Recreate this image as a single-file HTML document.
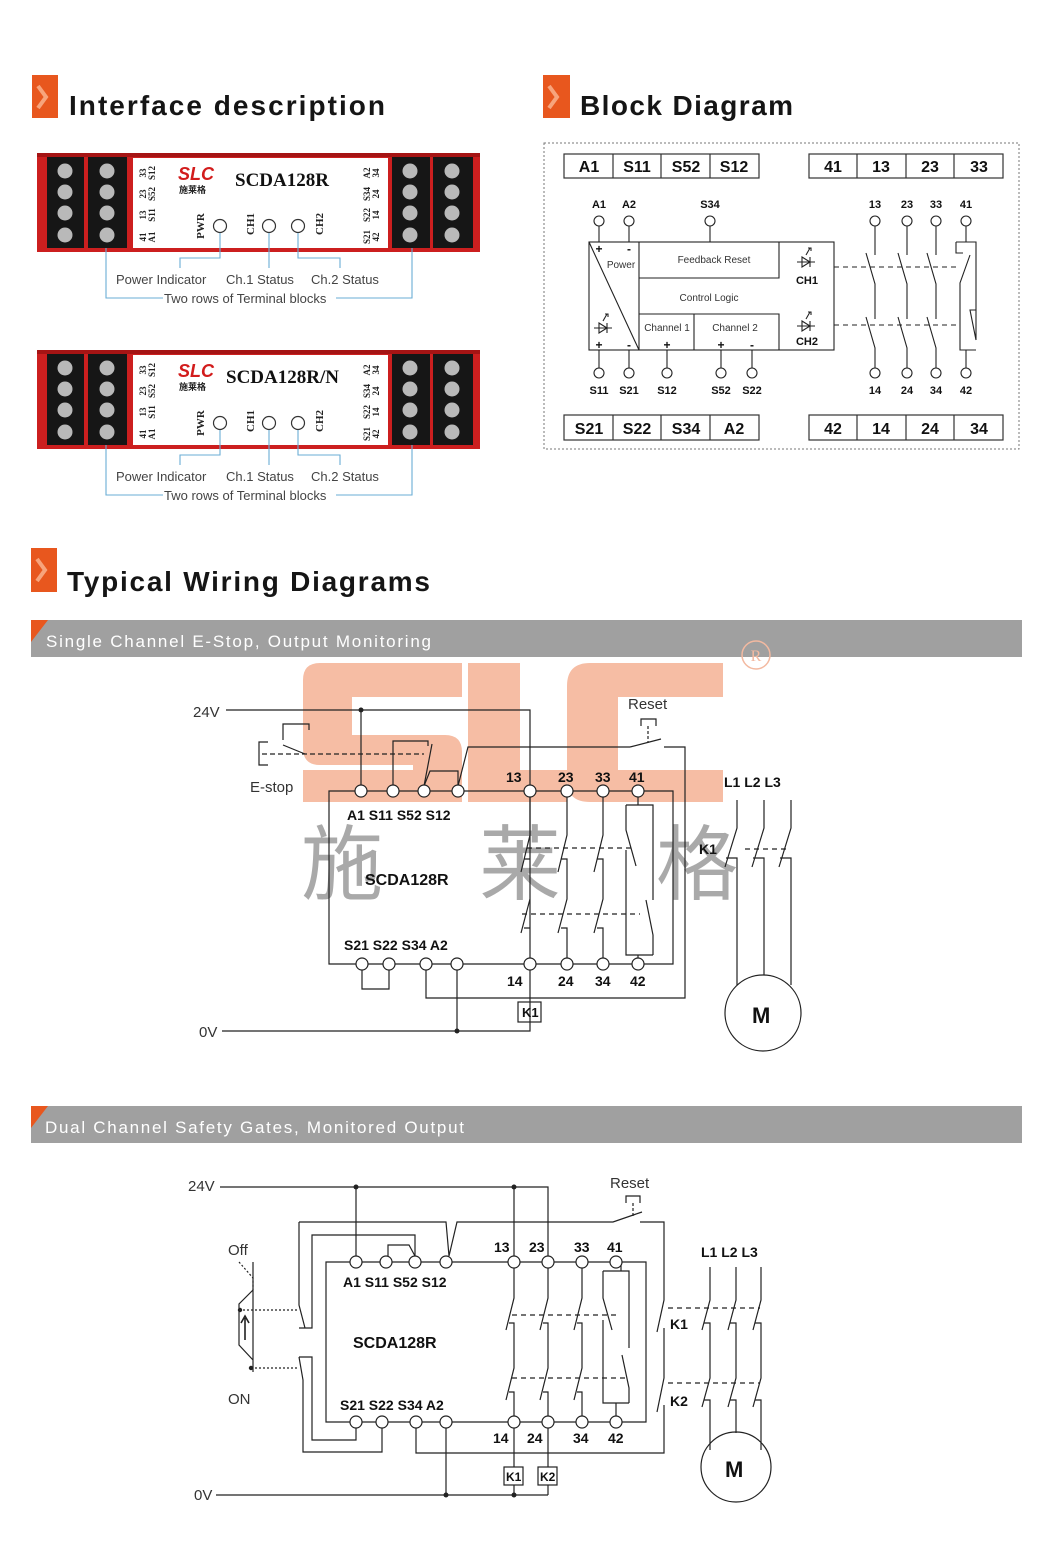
<!DOCTYPE html>
<html><head><meta charset="utf-8"><style>
html,body{margin:0;padding:0;background:#fff;}
svg{display:block;font-family:"Liberation Sans","Noto Sans CJK SC",sans-serif;}
</style></head><body>
<svg width="1060" height="1546" viewBox="0 0 1060 1546" xmlns="http://www.w3.org/2000/svg">
<defs>
<g id="dev">
  <rect x="37" y="153" width="443" height="99" fill="#cc1f1f"/>
  <rect x="37" y="153" width="443" height="4" fill="#a51414"/>
  <rect x="47" y="157" width="37" height="91" fill="#161616"/>
  <rect x="88" y="157" width="39" height="91" fill="#161616"/>
  <rect x="392" y="157" width="38" height="91" fill="#161616"/>
  <rect x="433" y="157" width="40" height="91" fill="#161616"/>
  <g fill="#b9b9b9">
    <circle cx="65" cy="171" r="7.5"/><circle cx="65" cy="192" r="7.5"/><circle cx="65" cy="213" r="7.5"/><circle cx="65" cy="235" r="7.5"/>
    <circle cx="107" cy="171" r="7.5"/><circle cx="107" cy="192" r="7.5"/><circle cx="107" cy="213" r="7.5"/><circle cx="107" cy="235" r="7.5"/>
    <circle cx="410" cy="171" r="7.5"/><circle cx="410" cy="192" r="7.5"/><circle cx="410" cy="213" r="7.5"/><circle cx="410" cy="235" r="7.5"/>
    <circle cx="452" cy="171" r="7.5"/><circle cx="452" cy="192" r="7.5"/><circle cx="452" cy="213" r="7.5"/><circle cx="452" cy="235" r="7.5"/>
  </g>
  <rect x="133" y="158" width="255" height="90" fill="#fff"/>
  <circle cx="220" cy="226" r="6.5" fill="#fff" stroke="#333" stroke-width="1.2"/>
  <circle cx="269" cy="226" r="6.5" fill="#fff" stroke="#333" stroke-width="1.2"/>
  <circle cx="298" cy="226" r="6.5" fill="#fff" stroke="#333" stroke-width="1.2"/>
</g>
<path id="c1" d="M0,0 V44 L-9,81 M-6,68 H0 V108 L-9,142 M-6,137 H0 V173" fill="none"/>
<path id="c2" d="M0,0 V36 L-8,68 M-5,61 H0 V106 L-8,138 M-5,130 H0 V160" fill="none"/>
<path id="cb" d="M0,0 V34 M-9,32 L0,63 V98 M-9,96 L0,127 V152" fill="none"/>
<g id="led" fill="none" stroke="#222" stroke-width="1.1">
  <path d="M-9,0 H9 M-4,-5 L4,0 L-4,5 Z M4,-5 V5 M0,-7 L4,-14 M2,-14 H5 V-11"/>
</g>
</defs>

<!-- headers -->
<rect x="32" y="75" width="26" height="43" fill="#e8571e"/>
<polyline points="38,86 46,97 38,108" fill="none" stroke="#f7a47c" stroke-width="4"/>
<text x="69" y="115" font-size="28" font-weight="bold" fill="#151515" textLength="316">Interface description</text>
<rect x="543" y="75" width="27" height="43" fill="#e8571e"/>
<polyline points="549,86 557,97 549,108" fill="none" stroke="#f7a47c" stroke-width="4"/>
<text x="580" y="115" font-size="28" font-weight="bold" fill="#151515" textLength="213">Block Diagram</text>
<rect x="31" y="548" width="26" height="44" fill="#e8571e"/>
<polyline points="37,559 45,570 37,581" fill="none" stroke="#f7a47c" stroke-width="4"/>
<text x="67" y="591" font-size="28" font-weight="bold" fill="#151515" textLength="363">Typical Wiring Diagrams</text>

<!-- devices -->
<use href="#dev"/>
<use href="#dev" transform="translate(0,197)"/>
<g id="devtext">
<text x="178" y="180" font-size="18" font-weight="bold" font-style="italic" fill="#d21c1c" font-family="Liberation Sans,sans-serif">SLC</text>
<text x="179" y="193" font-size="9" font-weight="bold" fill="#222">施莱格</text>
<g font-family="Liberation Serif,serif" font-weight="bold" font-size="9" fill="#222" text-anchor="middle">
<text transform="translate(146,173) rotate(-90)">33</text><text transform="translate(155,173) rotate(-90)">S12</text>
<text transform="translate(146,194) rotate(-90)">23</text><text transform="translate(155,194) rotate(-90)">S52</text>
<text transform="translate(146,215) rotate(-90)">13</text><text transform="translate(155,215) rotate(-90)">S11</text>
<text transform="translate(146,237) rotate(-90)">41</text><text transform="translate(155,237) rotate(-90)">A1</text>
<text transform="translate(370,173) rotate(-90)">A2</text><text transform="translate(379,173) rotate(-90)">34</text>
<text transform="translate(370,194) rotate(-90)">S34</text><text transform="translate(379,194) rotate(-90)">24</text>
<text transform="translate(370,215) rotate(-90)">S22</text><text transform="translate(379,215) rotate(-90)">14</text>
<text transform="translate(370,237) rotate(-90)">S21</text><text transform="translate(379,237) rotate(-90)">42</text>
<text transform="translate(204,226) rotate(-90)" font-size="11">PWR</text>
<text transform="translate(254,224) rotate(-90)" font-size="11">CH1</text>
<text transform="translate(323,224) rotate(-90)" font-size="11">CH2</text>
</g>
</g>
<use href="#devtext" transform="translate(0,197)"/>
<text x="235" y="186" font-family="Liberation Serif,serif" font-weight="bold" font-size="19" fill="#111">SCDA128R</text>
<text x="226" y="383" font-family="Liberation Serif,serif" font-weight="bold" font-size="19" fill="#111">SCDA128R/N</text>

<g id="devlbl">
<g fill="none" stroke="#6aaed6" stroke-width="1.1">
<path d="M106,248 V298 H163 M412,248 V298 H336 M220,233 V258 H180 V268 M269,233 V268 M298,233 V258 H340 V268"/>
</g>
<g font-size="13" fill="#444">
<text x="116" y="284">Power Indicator</text>
<text x="226" y="284">Ch.1 Status</text>
<text x="311" y="284">Ch.2 Status</text>
<text x="164" y="303">Two rows of Terminal blocks</text>
</g>
</g>
<use href="#devlbl" transform="translate(0,197)"/>

<!-- block diagram -->
<rect x="544" y="143" width="475" height="306" fill="none" stroke="#777" stroke-width="1" stroke-dasharray="2,2"/>
<g fill="none" stroke="#333" stroke-width="1.2">
<rect x="564" y="154" width="195" height="24"/><path d="M613,154V178M661,154V178M710,154V178"/>
<rect x="809" y="154" width="194" height="24"/><path d="M857,154V178M906,154V178M954,154V178"/>
<rect x="564" y="415" width="195" height="25"/><path d="M613,415V440M661,415V440M710,415V440"/>
<rect x="809" y="415" width="194" height="25"/><path d="M857,415V440M906,415V440M954,415V440"/>
</g>
<g font-size="16" font-weight="bold" fill="#111" text-anchor="middle">
<text x="589" y="172">A1</text><text x="637" y="172">S11</text><text x="686" y="172">S52</text><text x="734" y="172">S12</text>
<text x="833" y="172">41</text><text x="881" y="172">13</text><text x="930" y="172">23</text><text x="979" y="172">33</text>
<text x="589" y="434">S21</text><text x="637" y="434">S22</text><text x="686" y="434">S34</text><text x="734" y="434">A2</text>
<text x="833" y="434">42</text><text x="881" y="434">14</text><text x="930" y="434">24</text><text x="979" y="434">34</text>
</g>
<g fill="none" stroke="#222" stroke-width="1.1">
<rect x="589" y="242" width="245" height="108"/>
<path d="M639,242V350 M589,242 L639,350 M639,278H779V242 M639,314H779V350 M694,314V350"/>
<path d="M599,226V242 M629,226V242 M710,226V242 M599,350V368 M629,350V368 M667,350V368 M721,350V368 M752,350V368"/>
<path d="M834,267H960 M834,325H960" stroke-dasharray="5,4"/>
<use href="#cb" x="875" y="221"/><use href="#cb" x="907" y="221"/><use href="#cb" x="936" y="221"/>
<path d="M966,221V242 M956,242H976V340 M956,242V253 H963 M970,255 L960,283 V350 H976 M976,310 H970 L976,340"/>
<path d="M966,350V368"/>
</g>
<use href="#led" transform="translate(806,262)"/>
<use href="#led" transform="translate(806,326)"/>
<use href="#led" transform="translate(603,328)"/>
<g fill="#fff" stroke="#222" stroke-width="1.1">
<circle cx="599" cy="221" r="5"/><circle cx="629" cy="221" r="5"/><circle cx="710" cy="221" r="5"/>
<circle cx="875" cy="221" r="5"/><circle cx="907" cy="221" r="5"/><circle cx="936" cy="221" r="5"/><circle cx="966" cy="221" r="5"/>
<circle cx="599" cy="373" r="5"/><circle cx="629" cy="373" r="5"/><circle cx="667" cy="373" r="5"/><circle cx="721" cy="373" r="5"/><circle cx="752" cy="373" r="5"/>
<circle cx="875" cy="373" r="5"/><circle cx="907" cy="373" r="5"/><circle cx="936" cy="373" r="5"/><circle cx="966" cy="373" r="5"/>
</g>
<g font-size="11" font-weight="bold" fill="#111" text-anchor="middle">
<text x="599" y="208">A1</text><text x="629" y="208">A2</text><text x="710" y="208">S34</text>
<text x="875" y="208">13</text><text x="907" y="208">23</text><text x="936" y="208">33</text><text x="966" y="208">41</text>
<text x="599" y="394">S11</text><text x="629" y="394">S21</text><text x="667" y="394">S12</text><text x="721" y="394">S52</text><text x="752" y="394">S22</text>
<text x="875" y="394">14</text><text x="907" y="394">24</text><text x="936" y="394">34</text><text x="966" y="394">42</text>
<text x="807" y="284">CH1</text><text x="807" y="345">CH2</text>
<text x="599" y="253" font-size="12">+</text><text x="629" y="253" font-size="12">-</text>
<text x="599" y="349" font-size="12">+</text><text x="629" y="349" font-size="12">-</text>
<text x="667" y="349" font-size="12">+</text><text x="721" y="349" font-size="12">+</text><text x="752" y="349" font-size="12">-</text>
</g>
<g font-size="10" fill="#333" text-anchor="middle">
<text x="621" y="268">Power</text>
<text x="714" y="263">Feedback  Reset</text>
<text x="709" y="301">Control Logic</text>
<text x="667" y="331">Channel 1</text>
<text x="735" y="331">Channel 2</text>
</g>

<!-- grey bars -->
<rect x="31" y="620" width="991" height="37" fill="#a0a0a0"/>
<polygon points="31,620 48,620 31,642" fill="#e8571e"/>
<text x="46" y="647" font-size="17" fill="#fff" textLength="385">Single Channel E-Stop, Output Monitoring</text>
<rect x="31" y="1106" width="991" height="37" fill="#a0a0a0"/>
<polygon points="31,1106 48,1106 31,1128" fill="#e8571e"/>
<text x="45" y="1133" font-size="17" fill="#fff" textLength="419">Dual Channel Safety Gates, Monitored Output</text>

<!-- watermark -->
<g fill="#f6bda4">
<path d="M320,663 H462 V697 H352 V735 H445 Q462,735 462,752 V802 H303 V770 H413 V765 H320 Q303,765 303,748 V680 Q303,663 320,663 Z"/>
<path d="M468,663 H520 V770 H567 V802 H468 Z"/>
<path d="M590,663 H723 V697 H618 V770 H723 V802 H590 Q567,802 567,780 V686 Q567,663 590,663 Z"/>
</g>
<circle cx="756" cy="655" r="14" fill="none" stroke="#f3b9a0" stroke-width="1.5"/>
<text x="756" y="661" font-size="16" fill="#f3b9a0" text-anchor="middle" font-family="Liberation Serif,serif">R</text>
<g font-size="82" fill="#a9a9a9" font-family="Noto Sans CJK SC,sans-serif" text-anchor="middle">
<text x="342" y="893">施</text><text x="520" y="893">莱</text><text x="697" y="893">格</text>
</g>

<!-- wiring diagram 1 -->
<g fill="none" stroke="#222" stroke-width="1.2">
<path d="M226,710 H530 V1022"/>
<path d="M361,710 V786"/>
<path d="M329,791 H673 V964 H329 Z"/>
<path d="M393,786 V741 H428 V746 M432,744 L424,786"/>
<path d="M424,786 L430,771 H458 V786"/>
<path d="M458,786 L468,747 H630 M630,747 L661,739 M664,747 H685 V998 H426 V969"/>
<path d="M641,726 V719 H656 V726"/>
<path d="M648,726 V743" stroke-dasharray="3,2"/>
<path d="M262,754 H424" stroke-dasharray="5,3"/>
<path d="M268,742 H259 V765 H268 M283,740 V724 H309 V730 M283,745 L305,754"/>
<use href="#c1" x="567" y="791"/><use href="#c1" x="603" y="791"/>
<path d="M530,791 V835 L521,872 M524,859 H530 M530,899 L521,933 M524,928 H530"/>
<path d="M527,848 H635 M522,914 H640" stroke-dasharray="5,4"/>
<path d="M638,791 V805 M626,805 H653 V900 M626,805 V830 L636,866 M626,850 V955 H653 M646,900 L653,935 V955 M638,955 V964"/>
<path d="M362,969 V989 H389 V969"/>
<path d="M457,969 V1031 M222,1031 H530 V1022"/>
<rect x="518" y="1002" width="23" height="20"/>
<path d="M737,800 V828 L725,867 M726,858 H737 V985 M764,800 V828 L752,867 M753,858 H764 V975 M791,800 V828 L779,867 M780,858 H791 V985"/>
<path d="M745,849 H790" stroke-dasharray="5,4"/>
<circle cx="763" cy="1013" r="38"/>
</g>
<g fill="#fff" stroke="#222" stroke-width="1.2">
<circle cx="361" cy="791" r="6"/><circle cx="393" cy="791" r="6"/><circle cx="424" cy="791" r="6"/><circle cx="458" cy="791" r="6"/>
<circle cx="530" cy="791" r="6"/><circle cx="567" cy="791" r="6"/><circle cx="603" cy="791" r="6"/><circle cx="638" cy="791" r="6"/>
<circle cx="362" cy="964" r="6"/><circle cx="389" cy="964" r="6"/><circle cx="426" cy="964" r="6"/><circle cx="457" cy="964" r="6"/>
<circle cx="530" cy="964" r="6"/><circle cx="567" cy="964" r="6"/><circle cx="603" cy="964" r="6"/><circle cx="638" cy="964" r="6"/>
</g>
<circle cx="361" cy="710" r="2.5" fill="#222"/><circle cx="457" cy="1031" r="2.5" fill="#222"/>
<g font-size="15" fill="#333">
<text x="193" y="717">24V</text><text x="199" y="1037">0V</text>
<text x="250" y="792">E-stop</text><text x="628" y="709">Reset</text>
</g>
<g font-size="14" font-weight="bold" fill="#111">
<text x="347" y="820">A1  S11  S52  S12</text>
<text x="344" y="950">S21 S22  S34  A2</text>
<text x="506" y="782">13</text><text x="558" y="782">23</text><text x="595" y="782">33</text><text x="629" y="782">41</text>
<text x="507" y="986">14</text><text x="558" y="986">24</text><text x="595" y="986">34</text><text x="630" y="986">42</text>
<text x="365" y="885" font-size="16">SCDA128R</text>
<text x="522" y="1017" font-size="13">K1</text>
<text x="724" y="787">L1  L2  L3</text>
<text x="699" y="854">K1</text>
<text x="752" y="1023" font-size="22">M</text>
</g>

<!-- wiring diagram 2 -->
<g fill="none" stroke="#222" stroke-width="1.2">
<path d="M220,1187 H548 V1256 M514,1187 V1256 M356,1187 V1256"/>
<path d="M326,1262 H646 V1422 H326 Z"/>
<path d="M388,1256 V1245 H409 L415,1256"/>
<path d="M415,1256 V1235 H312 V1328 H299 M299,1222 V1305 L305,1328"/>
<path d="M299,1222 H446 L449,1256 M449,1256 L457,1222 H613 L642,1212 M640,1222 H664 V1300 L657,1332 M664,1328 V1378 L657,1412 M664,1405 V1453 H416 V1428"/>
<path d="M626,1203 V1196 H640 V1203"/><path d="M633,1203 V1218" stroke-dasharray="3,2"/>
<path d="M356,1428 V1440 H312 V1357 H299 M299,1357 L303,1380 V1452 H382 V1428"/>
<use href="#c2" x="514" y="1262"/><use href="#c2" x="548" y="1262"/><use href="#c2" x="582" y="1262"/>
<path d="M514,1422 V1495 M548,1422 V1495"/>
<path d="M621,1262 V1271 M603,1271 H629 V1348 M603,1271 V1298 L612,1330 M603,1320 V1403 H629 M622,1355 L629,1388 V1403 M616,1403 V1422"/>
<path d="M512,1315 H620 M512,1378 H625" stroke-dasharray="5,4"/>
<path d="M446,1428 V1495 M216,1495 H548"/>
<rect x="504" y="1467" width="19" height="18" fill="#fff"/><rect x="538" y="1467" width="19" height="18" fill="#fff"/>
<path d="M253,1262 V1372 M253,1290 L239,1304 V1345 L253,1360"/>
<path d="M239,1262 L253,1278 V1290" stroke-dasharray="2,2"/>
<path d="M239,1310 H299 M251,1368 H299" stroke-dasharray="2,2"/>
<path d="M245,1340 V1318 M241,1323 L245,1316 L249,1323" stroke-width="1.6"/>
<path d="M710,1267 V1300 L702,1330 M704,1323 H710 V1378 L702,1407 M704,1400 H710 V1450 M736,1267 V1300 L728,1330 M730,1323 H736 V1378 L728,1407 M730,1400 H736 V1433 M761,1267 V1300 L753,1330 M755,1323 H761 V1378 L753,1407 M755,1400 H761 V1450"/>
<path d="M668,1308 H760 M668,1383 H760" stroke-dasharray="5,4"/>
<circle cx="736" cy="1467" r="35"/>
</g>
<g fill="#fff" stroke="#222" stroke-width="1.2">
<circle cx="356" cy="1262" r="6"/><circle cx="386" cy="1262" r="6"/><circle cx="415" cy="1262" r="6"/><circle cx="446" cy="1262" r="6"/>
<circle cx="514" cy="1262" r="6"/><circle cx="548" cy="1262" r="6"/><circle cx="582" cy="1262" r="6"/><circle cx="616" cy="1262" r="6"/>
<circle cx="356" cy="1422" r="6"/><circle cx="382" cy="1422" r="6"/><circle cx="416" cy="1422" r="6"/><circle cx="446" cy="1422" r="6"/>
<circle cx="514" cy="1422" r="6"/><circle cx="548" cy="1422" r="6"/><circle cx="582" cy="1422" r="6"/><circle cx="616" cy="1422" r="6"/>
</g>
<circle cx="356" cy="1187" r="2.5" fill="#222"/><circle cx="514" cy="1187" r="2.5" fill="#222"/>
<circle cx="446" cy="1495" r="2.5" fill="#222"/><circle cx="514" cy="1495" r="2.5" fill="#222"/>
<circle cx="240" cy="1310" r="2.2" fill="#222"/><circle cx="251" cy="1368" r="2.2" fill="#222"/>
<g font-size="15" fill="#333">
<text x="188" y="1191">24V</text><text x="194" y="1500">0V</text>
<text x="228" y="1255">Off</text><text x="228" y="1404">ON</text>
<text x="610" y="1188">Reset</text>
</g>
<g font-size="14" font-weight="bold" fill="#111">
<text x="343" y="1287">A1  S11  S52  S12</text>
<text x="340" y="1410">S21 S22  S34  A2</text>
<text x="494" y="1252">13</text><text x="529" y="1252">23</text><text x="574" y="1252">33</text><text x="607" y="1252">41</text>
<text x="493" y="1443">14</text><text x="527" y="1443">24</text><text x="573" y="1443">34</text><text x="608" y="1443">42</text>
<text x="353" y="1348" font-size="16">SCDA128R</text>
<text x="506" y="1481" font-size="12">K1</text><text x="540" y="1481" font-size="12">K2</text>
<text x="701" y="1257">L1  L2  L3</text>
<text x="670" y="1329">K1</text><text x="670" y="1406">K2</text>
<text x="725" y="1477" font-size="22">M</text>
</g>
</svg>
</body></html>
